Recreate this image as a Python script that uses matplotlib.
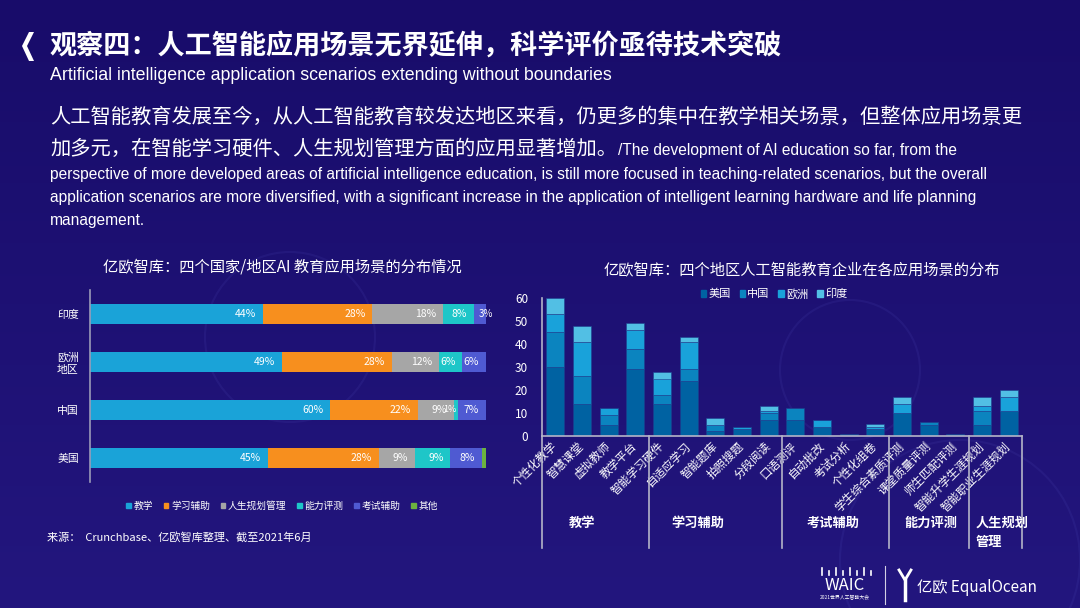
import numpy as np
import matplotlib
matplotlib.use("Agg")
import matplotlib.pyplot as plt
from matplotlib.patches import Patch, Polygon, Circle
from matplotlib.lines import Line2D

plt.rcParams['font.family'] = ['Noto Sans CJK SC', 'DejaVu Sans']

W, H = 1080, 608

# ---- left chart: share of application scenarios per region (%)
regions = ['印度', '欧洲\n地区', '中国', '美国']
scene_types = ['教学', '学习辅助', '人生规划管理', '能力评测', '考试辅助', '其他']
teach = [44, 49, 60, 45]
study = [28, 28, 22, 28]
life = [18, 12, 9, 9]
ability = [8, 6, 1, 9]
exam = [3, 6, 7, 8]
other = [0, 0, 0, 1]
left_colors = ['#1aa3d8', '#f78f1e', '#a6a6a6', '#1ec6c8', '#4f5ad2', '#6cb33f']

# ---- right chart: number of companies per scenario
scenes = ['个性化教学', '智慧课堂', '虚拟教师', '教学平台', '智能学习硬件', '自适应学习',
          '智能题库', '拍照搜题', '分段阅读', '口语测评', '自动批改', '考试分析',
          '个性化组卷', '学生综合素质评测', '课堂质量评测', '师生匹配评测',
          '智能升学生涯规划', '智能职业生涯规划']
us = [30, 14, 5, 29, 14, 24, 2, 3, 7, 7, 4, 1, 3, 10, 5, 1, 5, 11]
cn = [15, 12, 4, 9, 4, 5, 3, 0, 3, 5, 0, 0, 0, 0, 1, 0, 6, 0]
eu = [8, 15, 3, 8, 7, 12, 0, 1, 1, 0, 3, 0, 1, 4, 0, 0, 2, 6]
ind = [7, 7, 0, 3, 3, 2, 3, 0, 2, 0, 0, 0, 1, 3, 0, 0, 4, 3]
series_names = ['美国', '中国', '欧洲', '印度']
right_colors = ['#0062a2', '#0b84bf', '#19a2da', '#52bfe4']
groups = ['教学', '学习辅助', '考试辅助', '能力评测', '人生规划\n管理']
group_edges = [-0.5, 3.5, 8.5, 12.5, 15.5, 17.5]


def fx(x):
    return x / W


def fy(y):
    return 1 - y / H


fig = plt.figure(figsize=(W / 100, H / 100), dpi=100)

# background
bg = fig.add_axes([0, 0, 1, 1], zorder=-10)
grad = np.linspace(0, 1, 256).reshape(-1, 1)
c0 = np.array([0x18, 0x0c, 0x6a]) / 255
c1 = np.array([0x23, 0x16, 0x7e]) / 255
img = c0 + (c1 - c0) * grad[..., None]
bg.imshow(img, aspect='auto', extent=[0, W, H, 0])
bg.set_xlim(0, W)
bg.set_ylim(H, 0)
for cx, cy, r in [(290, 337, 85), (850, 370, 70), (960, 560, 120)]:
    bg.add_patch(Circle((cx, cy), r, fill=False, ec='#5a5ac8', lw=1.5, alpha=0.12))
bg.axis('off')

# header
bg.add_patch(Polygon([(34, 32), (27, 46), (34, 61), (29, 61), (22, 46), (29, 32)],
                     closed=True, fc='white', ec='none'))
fig.text(fx(50), fy(46), '观察四：人工智能应用场景无界延伸，科学评价亟待技术突破',
         color='white', fontsize=19.5, fontweight='bold', va='center')
fig.text(fx(50), fy(75), 'Artificial intelligence application scenarios extending without boundaries',
         color='white', fontsize=12.8, family='Liberation Sans', va='center')

fig.text(fx(50), fy(117), '人工智能教育发展至今，从人工智能教育较发达地区来看，仍更多的集中在教学相关场景，但整体应用场景更',
         color='white', fontsize=14.6, va='center')
fig.text(fx(50), fy(149), '加多元，在智能学习硬件、人生规划管理方面的应用显著增加。',
         color='white', fontsize=14.6, va='center')
fig.text(fx(618), fy(150), '/The development of AI education so far, from the',
         color='white', fontsize=11.2, family='Liberation Sans', va='center')
eng_lines = ['perspective of more developed areas of artificial intelligence education, is still more focused in teaching-related scenarios, but the overall',
             'application scenarios are more diversified, with a significant increase in the application of intelligent learning hardware and life planning',
             'management.']
for line, y in zip(eng_lines, [175, 198, 220]):
    fig.text(fx(50), fy(y), line, color='white', fontsize=11.2,
             family='Liberation Sans', va='center')

# ---- left chart
axl = fig.add_axes([fx(90), fy(482), 396 / W, 192 / H])
axl.set_facecolor('none')
data = np.array([teach, study, life, ability, exam, other], dtype=float)
totals = data.sum(axis=0)
norm = data / totals * 100
ypos = np.arange(len(regions))
left = np.zeros(len(regions))
for k in range(len(scene_types)):
    axl.barh(ypos, norm[k], left=left, height=0.4, color=left_colors[k],
             label=scene_types[k])
    for i in range(len(regions)):
        v = data[k, i]
        if v <= 0 or k == 5:
            continue
        end = left[i] + norm[k, i]
        if v <= 3 and k == 4:
            axl.text(end, ypos[i], f'{int(v)}%', color='white', fontsize=7,
                     ha='center', va='center')
        elif v <= 1:
            axl.annotate(f'{int(v)}%', (end, ypos[i]), xytext=(-1, 0),
                         textcoords='offset points', color='white', fontsize=6.5,
                         ha='right', va='center')
        else:
            axl.annotate(f'{int(v)}%', (end, ypos[i]), xytext=(-5, 0),
                         textcoords='offset points', color='white', fontsize=7.5,
                         ha='right', va='center')
    left += norm[k]
axl.set_xlim(0, 100)
axl.set_ylim(len(regions) - 0.5, -0.5)
axl.set_yticks(ypos)
axl.set_yticklabels(regions, color='white', fontsize=7.8)
axl.tick_params(axis='y', length=0, pad=8)
axl.set_xticks([])
for s in ['top', 'right', 'bottom']:
    axl.spines[s].set_visible(False)
axl.spines['left'].set_color('#9a9ab8')
axl.spines['left'].set_linewidth(1.2)
fig.text(fx(282), fy(267), '亿欧智库：四个国家/地区AI 教育应用场景的分布情况',
         color='white', fontsize=11, ha='center', va='center')
fig.legend(handles=[Patch(color=c, label=n) for c, n in zip(left_colors, scene_types)],
           loc='center', bbox_to_anchor=(fx(282), fy(506)), ncol=6, frameon=False,
           fontsize=7, labelcolor='white', handlelength=0.5, handleheight=0.5,
           handletextpad=0.25, columnspacing=1.1)
fig.text(fx(47), fy(537), '来源：  Crunchbase、亿欧智库整理、截至2021年6月',
         color='white', fontsize=8, va='center', style='italic')

# ---- right chart
axr = fig.add_axes([fx(542), fy(436), 480 / W, 138 / H])
axr.set_facecolor('none')
x = np.arange(len(scenes))
bottom = np.zeros(len(scenes))
for vals, name, col in zip([us, cn, eu, ind], series_names, right_colors):
    axr.bar(x, vals, bottom=bottom, width=0.67, color=col, label=name,
            edgecolor='#1d3f8f', linewidth=0.4)
    bottom += np.array(vals)
axr.set_xlim(-0.5, len(scenes) - 0.5)
axr.set_ylim(0, 60)
axr.set_yticks(range(0, 61, 10))
axr.tick_params(axis='y', length=0, pad=10, labelcolor='white', labelsize=8.5)
axr.set_xticks(x)
axr.set_xticklabels(scenes, rotation=45, ha='right', va='center',
                    rotation_mode='anchor', color='white', fontsize=8.3)
axr.tick_params(axis='x', length=0, pad=6)
for s in ['top', 'right']:
    axr.spines[s].set_visible(False)
for s in ['left', 'bottom']:
    axr.spines[s].set_color('#b4b4c8')
    axr.spines[s].set_linewidth(1.2)
trans = axr.get_xaxis_transform()
for e in group_edges:
    axr.add_line(Line2D([e, e], [0, -0.81], transform=trans, color='#b4b4c8',
                        lw=1.2, clip_on=False))
group_x = [1.0, 5.35, 10.4, 14.1]
for g, gx in zip(groups[:4], group_x):
    axr.text(gx, -0.63, g, transform=trans, color='white', fontsize=9.5,
             fontweight='bold', ha='center', va='center')
axr.text(15.77, -0.63, '人生规划', transform=trans, color='white', fontsize=9.5,
         fontweight='bold', ha='left', va='center')
axr.text(15.77, -0.77, '管理', transform=trans, color='white', fontsize=9.5,
         fontweight='bold', ha='left', va='center')
fig.text(fx(802), fy(270), '亿欧智库：四个地区人工智能教育企业在各应用场景的分布',
         color='white', fontsize=11, ha='center', va='center')
fig.legend(handles=[Patch(color=c, label=n) for c, n in zip(right_colors, series_names)],
           loc='center', bbox_to_anchor=(fx(774), fy(294)), ncol=4, frameon=False,
           fontsize=8, labelcolor='white', handlelength=0.5, handleheight=0.5,
           handletextpad=0.2, columnspacing=0.8)

# ---- footer logos
for i, dx in enumerate(range(822, 872, 7)):
    h = 4 if i % 2 else 7
    bg.plot([dx, dx], [575 - h, 575], color='white', lw=1.2)
fig.text(fx(845), fy(585), 'WAIC', color='white', fontsize=12, ha='center', va='center')
fig.text(fx(845), fy(598), '2021世界人工智能大会', color='white', fontsize=3.5,
         ha='center', va='center')
bg.plot([885, 885], [566, 604], color='white', lw=0.8, alpha=0.8)
bg.plot([899, 905, 911], [570, 580, 570], color='white', lw=2)
bg.plot([905, 905], [580, 600], color='white', lw=2.5)
fig.text(fx(917), fy(587), '亿欧 EqualOcean', color='white', fontsize=11, va='center')

fig.savefig('out.png', dpi=100)
